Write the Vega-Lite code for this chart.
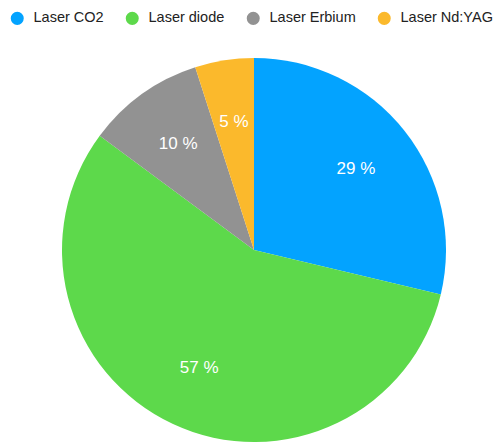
{
  "$schema": "https://vega.github.io/schema/vega-lite/v6.json",
  "width": 508,
  "height": 500,
  "padding": 0,
  "autosize": {"type": "none"},
  "background": "white",
  "config": {"view": {"stroke": null}, "font": "Liberation Sans"},
  "data": {"values": [
    {"type": "Laser CO2", "pct": 29, "k": 1},
    {"type": "Laser diode", "pct": 57, "k": 2},
    {"type": "Laser Erbium", "pct": 10, "k": 3},
    {"type": "Laser Nd:YAG", "pct": 5, "k": 4}
  ]},
  "transform": [{"calculate": "datum.pct + ' %'", "as": "lbl"}],
  "encoding": {
    "theta": {"field": "pct", "type": "quantitative", "stack": true},
    "order": {"field": "k", "type": "quantitative"},
    "color": {
      "field": "type", "type": "nominal",
      "scale": {"domain": ["Laser CO2", "Laser diode", "Laser Erbium", "Laser Nd:YAG"],
                "range": ["#03A3FF", "#5DD94B", "#929292", "#FBB92C"]},
      "legend": {
        "title": null, "orient": "none", "direction": "horizontal",
        "legendX": 10, "legendY": 11,
        "symbolType": "circle", "symbolSize": 170, "symbolStrokeWidth": 0,
        "labelFontSize": 14.5, "labelColor": "#222222", "labelOffset": 9,
        "columnPadding": 21, "labelLimit": 200
      }
    }
  },
  "layer": [
    {"mark": {"type": "arc", "outerRadius": 192}},
    {"mark": {"type": "text", "radius": 130, "fontSize": 17, "fill": "white"},
     "encoding": {"text": {"field": "lbl", "type": "nominal"}, "color": {"value": "white"}}}
  ]
}
